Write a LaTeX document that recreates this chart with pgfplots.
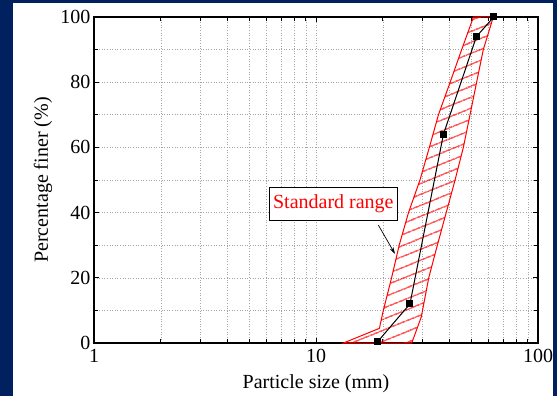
\documentclass[border=0pt]{standalone}
\usepackage{fontspec}
\setmainfont{Liberation Serif}
\usepackage{pgfplots}
\pgfplotsset{compat=1.18}
\usetikzlibrary{patterns.meta,arrows.meta}
\definecolor{navybg}{RGB}{0,32,96}
\definecolor{gridgray}{RGB}{165,165,165}
\begin{document}
\begin{tikzpicture}[x=1bp,y=1bp]
\path[use as bounding box] (0,0) rectangle (557,396);
\fill[navybg] (0,0) rectangle (557,396);
\fill[white] (13,0) rectangle (553,393);
\begin{axis}[
  at={(94bp,53bp)}, anchor=south west,
  scale only axis, width=444bp, height=326bp,
  xmode=log, xmin=1, xmax=100, ymin=0, ymax=100,
  xtick={1,10,100}, xticklabels={1,10,100},
  ytick={0,20,40,60,80,100}, minor ytick={10,30,50,70,90},
  grid=both,
  major grid style={gridgray, line width=0.6bp, dash pattern=on 1bp off 1.6bp},
  minor grid style={gridgray, line width=0.6bp, dash pattern=on 1bp off 1.6bp},
  tick align=inside,
  major tick length=5bp, minor tick length=4bp,
  every tick/.style={black, line width=0.8bp},
  axis line style={line width=1.2bp},
  /pgf/number format/assume math mode=true,
  ticklabel style={font=\fontsize{20bp}{24bp}\selectfont},
  xticklabel style={yshift=-3bp},
  label style={font=\fontsize{20bp}{24bp}\selectfont},
  xlabel={Particle size (mm)},
  ylabel={Percentage finer (\%)},
  xlabel style={at={(axis description cs:0.5,0)}, anchor=base, yshift=-45bp},
  ylabel style={at={(axis description cs:-0.1036,0.5)}, anchor=base},
  clip=true,
]
% standard range band
\addplot[draw=red, line width=1bp,
  pattern={Lines[angle=22, distance=9.5bp, line width=1.2bp]}, pattern color=red]
  coordinates {
  (13.3,0) (19.3,4.5) (20.1,10) (21.9,20) (23.7,30) (26.1,40) (29.4,50)
  (32.4,60) (35.6,70) (40.2,80) (45.3,90) (51.2,100)
  (62.9,100) (56.7,90) (52.9,80) (49.4,70) (46.1,60) (42.3,50) (38.6,40)
  (35.2,30) (32.2,20) (29.8,8) (27.0,0)
  } -- cycle;
% measured gradation
\addplot[black, line width=1bp, mark=square*, mark size=3bp,
  mark options={solid, fill=black}]
  coordinates {(19,0.5) (26.5,12) (37.5,64) (52.8,94) (63.2,100)};
% annotation
\node[draw=black, line width=0.7bp, fill=white, text=red,
  font=\fontsize{20bp}{24bp}\selectfont,
  minimum height=32.7bp, inner xsep=3.5bp]
  at (axis cs:11.97,42.7) {Standard range};
\draw[-{Stealth[length=7bp,width=4bp]}, black, line width=0.7bp]
  (axis cs:19.08,36.2) -- (axis cs:22.7,27.3);
\end{axis}
\end{tikzpicture}
\end{document}
